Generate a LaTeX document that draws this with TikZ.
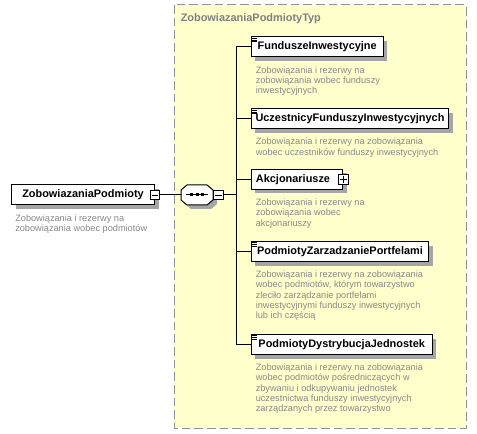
\documentclass[tikz,border=0pt]{standalone}
\usepackage{fontspec}
\setmainfont{Liberation Sans}
\usetikzlibrary{shadows}
\definecolor{yel}{RGB}{255,255,204}
\definecolor{bord}{RGB}{145,145,145}
\definecolor{shd}{RGB}{165,165,165}
\definecolor{desc}{RGB}{136,136,136}
\definecolor{ttl}{RGB}{128,128,128}
\begin{document}
\begin{tikzpicture}[x=0.75pt,y=-0.75pt,
  elem/.style={draw=black, fill=white, line width=0.75pt, minimum height=15pt,
    inner sep=0pt, font=\fontsize{8.2}{9}\selectfont\bfseries, anchor=west,
    drop shadow={shadow xshift=3pt, shadow yshift=-3pt, fill=shd, opacity=1}},
  dsc/.style={font=\fontsize{6.9}{7.75}\selectfont, text=desc, align=left, inner sep=0pt, anchor=base west},
  sqbox/.style={draw=black, fill=white, line width=0.6pt, minimum size=7pt, inner sep=0pt},
  conn/.style={line width=0.75pt}
]
\useasboundingbox (0,0) rectangle (477,434);
% group box
\draw[draw=bord, fill=yel, line width=0.75pt, dash pattern=on 6.5pt off 3pt] (174,5) rectangle (466,428);
\node[anchor=base west, inner sep=0pt, font=\fontsize{8.2}{9}\selectfont\bfseries, text=ttl] (title) at (180.5,21.8) {ZobowiazaniaPodmiotyTyp};

% main element
\node[elem, minimum width=107.25pt] (main) at (11,195) {ZobowiazaniaPodmioty};
\node[sqbox] (sq1) at (main.east) {};
\draw[line width=0.6pt] ([xshift=1.3pt]sq1.west) -- ([xshift=-1.3pt]sq1.east);
\node[dsc] (d0) at (15,231.8) {Zobowiązania i rezerwy na\\zobowiązania wobec podmiotów};

% sequence compositor
\node[minimum width=24pt, minimum height=15pt, inner sep=0pt] (seq) at (197,195) {};
\fill[shd, shift={(201,199)}] (-10,-10) -- (10,-10) -- (16,-5) -- (16,5) -- (10,10) -- (-10,10) -- (-16,5) -- (-16,-5) -- cycle;
\draw[fill=white, line width=0.75pt, shift={(seq.center)}] (-10,-10) -- (10,-10) -- (16,-5) -- (16,5) -- (10,10) -- (-10,10) -- (-16,5) -- (-16,-5) -- cycle;
\draw[line width=0.75pt] ([xshift=3.6pt]seq.west) -- ([xshift=-3.6pt]seq.east);
\foreach \dx in {-5.5,0,5.5} \fill ([shift={(\dx-1.5,-1.5)}]seq.center) rectangle ++(3,3);
\node[sqbox, anchor=west] (sq2) at (seq.east) {};
\draw[line width=0.6pt] ([xshift=1.3pt]sq2.west) -- ([xshift=-1.3pt]sq2.east);
\draw[conn] (sq1.east) -- (seq.west);

% children
\node[elem, minimum width=99pt] (f1) at (250.7,47) {FunduszeInwestycyjne};
\node[elem, minimum width=148.2pt] (f2) at (250.7,119) {UczestnicyFunduszyInwestycyjnych};
\node[elem, minimum width=68.7pt] (f3) at (250.7,179.5) {Akcjonariusze\hspace*{6pt}};
\node[elem, minimum width=133.2pt] (f4) at (250.7,251.5) {PodmiotyZarzadzaniePortfelami};
\node[elem, minimum width=135.75pt] (f5) at (250.7,344.5) {PodmiotyDystrybucjaJednostek};

\node[sqbox] (sq3) at (f3.east) {};
\draw[line width=0.6pt] ([xshift=1.3pt]sq3.west) -- ([xshift=-1.3pt]sq3.east);
\draw[line width=0.6pt] ([yshift=-1.3pt]sq3.north) -- ([yshift=1.3pt]sq3.south);

\foreach \n in {f1,f2,f4,f5} {
  \foreach \dy in {1.8,3.4,5.0}
    \draw[line width=0.55pt] ([shift={(1.6,\dy)}]\n.north west) -- ++(4.6,0);
}

% connectors
\coordinate (bus) at (236,195);
\draw[conn] (sq2.east) -- (bus);
\draw[conn] (f1.west) -- (f1.west -| bus) -- (f5.west -| bus) -- (f5.west);
\foreach \n in {f2,f3,f4} \draw[conn] (\n.west -| bus) -- (\n.west);

% descriptions (anchored at the baseline of their last line)
\node[dsc] (d1) at (255.5,93.7) {Zobowiązania i rezerwy na\\zobowiązania wobec funduszy\\inwestycyjnych};
\node[dsc] (d2) at (255.5,155.3) {Zobowiązania i rezerwy na zobowiązania\\wobec uczestników funduszy inwestycyjnych};
\node[dsc] (d3) at (255.5,226.2) {Zobowiązania i rezerwy na\\zobowiązania wobec\\akcjonariuszy};
\node[dsc] (d4) at (255.5,318.8) {Zobowiązania i rezerwy na zobowiązania\\wobec podmiotów, którym towarzystwo\\zleciło zarządzanie portfelami\\inwestycyjnymi funduszy inwestycyjnych\\lub ich częścią};
\node[dsc] (d5) at (255.5,411.8) {Zobowiązania i rezerwy na zobowiązania\\wobec podmiotów pośredniczących w\\zbywaniu i odkupywaniu jednostek\\uczestnictwa funduszy inwestycyjnych\\zarządzanych przez towarzystwo};
\end{tikzpicture}
\end{document}
